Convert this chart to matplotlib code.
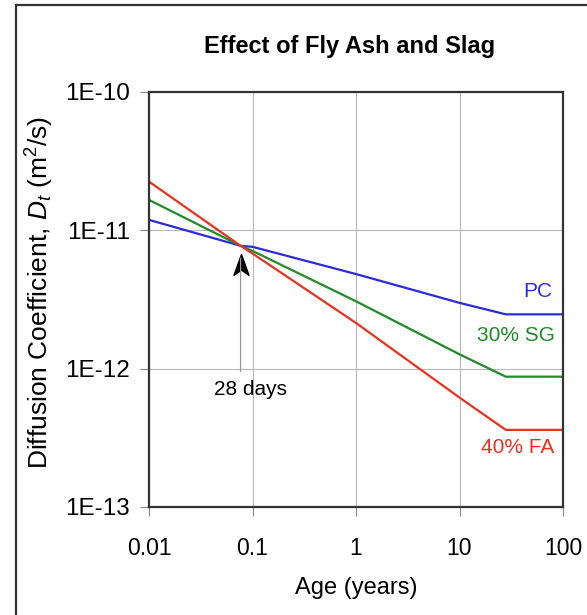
import matplotlib
matplotlib.use('Agg')
import matplotlib.pyplot as plt
from matplotlib.patches import Rectangle
from matplotlib.path import Path

plt.rcParams['font.family'] = ['Liberation Sans', 'DejaVu Sans']
plt.rcParams['mathtext.fontset'] = 'custom'
plt.rcParams['mathtext.rm'] = 'Liberation Sans'
plt.rcParams['mathtext.it'] = 'Liberation Sans:italic'

# Values (age in years, D in m^2/s)
years = [0.01, 0.0767, 0.1, 1, 10, 28, 100]
pc = [1.19e-11, 7.73e-12, 7.6e-12, 4.83e-12, 2.99e-12, 2.47e-12, 2.47e-12]
sg30 = [1.66e-11, 7.73e-12, 7.1e-12, 3.07e-12, 1.27e-12, 8.75e-13, 8.75e-13]
fa40 = [2.25e-11, 7.73e-12, 6.8e-12, 2.14e-12, 6.18e-13, 3.61e-13, 3.61e-13]
series_labels = ['PC', '30% SG', '40% FA']
series_colors = ['#2b2bdc', '#1f8c28', '#e8321e']

x_ticks = [0.01, 0.1, 1, 10, 100]
x_ticklabels = ['0.01', '0.1', '1', '10', '100']
y_ticks = [1e-13, 1e-12, 1e-11, 1e-10]
y_ticklabels = ['1E-13', '1E-12', '1E-11', '1E-10']
day28 = 0.0767

fig = plt.figure(figsize=(5.87, 6.15), dpi=100)
ax = fig.add_axes([149 / 587, 1 - 507 / 615, 414 / 587, 415 / 615])

for vals, lab, col in zip([pc, sg30, fa40], series_labels, series_colors):
    ax.plot(years, vals, color=col, lw=1.6, label=lab)

ax.set_xscale('log')
ax.set_yscale('log')
ax.set_xlim(0.01, 100)
ax.set_ylim(1e-13, 1e-10)
ax.set_xticks(x_ticks)
ax.set_xticklabels(x_ticklabels)
ax.set_yticks(y_ticks)
ax.set_yticklabels(y_ticklabels)
ax.minorticks_off()
ax.tick_params(axis='both', direction='out', length=6.5, width=0.8,
               color='#888888', labelsize=16.5)
ax.tick_params(axis='x', pad=15)
ax.tick_params(axis='y', labelsize=17.5, pad=7)
ax.grid(True, color='#b8b8b8', lw=0.8)
for sp in ax.spines.values():
    sp.set_linewidth(1.6)
    sp.set_color('#333333')

# curve labels
ax.text(0.975, 0.519, 'PC', color=series_colors[0], fontsize=15,
        ha='right', va='center', transform=ax.transAxes)
ax.text(0.98, 0.414, '30% SG', color=series_colors[1], fontsize=15,
        ha='right', va='center', transform=ax.transAxes)
ax.text(0.978, 0.144, '40% FA', color=series_colors[2], fontsize=15,
        ha='right', va='center', transform=ax.transAxes)

# 28 days arrow
ax.annotate('', xy=(day28, 6.6e-12), xytext=(day28, 9.1e-13),
            arrowprops=dict(arrowstyle='-', color='#999999', lw=0.9))
head = Path([(0, 0), (-0.36, -1), (0, -0.75), (0.36, -1), (0, 0)],
            [Path.MOVETO, Path.LINETO, Path.LINETO, Path.LINETO, Path.CLOSEPOLY])
ax.plot([day28], [6.77e-12], marker=head, markersize=30, color='black', lw=0)
ax.text(0.244, 0.284, '28 days', fontsize=15, ha='center', va='center',
        transform=ax.transAxes)

ax.set_xlabel('Age (years)', fontsize=17, labelpad=12)
fig.text(40 / 587, 1 - 292 / 615,
         r'Diffusion Coefficient, $D_t$ (m$^2$/s)',
         rotation=90, ha='center', va='center', fontsize=19)
fig.text(350 / 587, 1 - 46 / 615, 'Effect of Fly Ash and Slag',
         fontsize=17, fontweight='bold', ha='center', va='center')

# outer frame
fig.patches.append(Rectangle((16 / 587, -0.02), 1.0, 1.02 - 5 / 615,
                             transform=fig.transFigure, fill=False,
                             lw=1.6, ec='#333333'))

fig.savefig('out.png', dpi=100)
